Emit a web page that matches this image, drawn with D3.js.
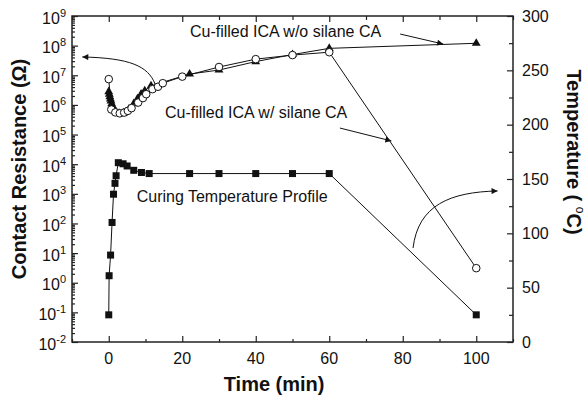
<!DOCTYPE html>
<html>
<head>
<meta charset="utf-8">
<script src="https://d3js.org/d3.v7.min.js"></script>
<style>
  body { margin: 0; background: #fff; }
  svg text { font-family: "Liberation Sans", Arial, sans-serif; fill: #111; }
</style>
</head>
<body>
<div id="chart"></div>
<script>
// curing temperature profile (right axis, deg C)
var tempTime = [0, 0.1, 0.5, 0.9, 1.3, 1.7, 2.0, 2.6, 3.9, 5.0, 6.8, 8.9, 11, 22, 30, 40, 50, 60, 100];
var tempVals = [25, 61, 80, 110, 136, 146, 153, 165, 164, 162, 158, 156, 155, 155, 155, 155, 155, 155, 25];

// Cu-filled ICA w/o silane CA (triangles, left axis, ohm)
var noSilaneTime = [0, 0.15, 0.3, 0.45, 0.6, 0.8, 1.0, 1.3, 1.6, 2.0, 2.8, 4.0, 5.5, 6.8, 7.8, 8.8, 9.8, 11.5, 22, 30, 40, 50, 60, 100];
var noSilaneRes = [2.8e6, 2.3e6, 1.9e6, 1.6e6, 1.35e6, 1.1e6, 9.0e5, 7.6e5, 6.5e5, 5.8e5, 5.2e5, 5.4e5, 7.2e5, 1.1e6, 1.6e6, 2.3e6, 3.0e6, 4.4e6, 1.1e7, 1.5e7, 2.9e7, 5.0e7, 8.1e7, 1.2e8];

// Cu-filled ICA w/ silane CA (open circles, left axis, ohm)
var silaneTime = [0, 0.7, 1.8, 3.0, 4.2, 5.2, 6.2, 8.0, 9.3, 10.2, 11.9, 13.4, 14.7, 20, 30, 40, 50, 60, 100];
var silaneRes = [7.4e6, 7.0e5, 5.6e5, 5.2e5, 5.5e5, 6.3e5, 7.8e5, 1.2e6, 1.7e6, 2.3e6, 3.4e6, 4.1e6, 5.4e6, 9.0e6, 1.9e7, 3.5e7, 4.8e7, 6.0e7, 3.1];

// tick values
var xTicks = [0, 20, 40, 60, 80, 100];
var xMinor = [-10, 10, 30, 50, 70, 90, 110];
var decades = [-2, -1, 0, 1, 2, 3, 4, 5, 6, 7, 8, 9];
var tempTicks = [0, 50, 100, 150, 200, 250, 300];
var tempMinor = [25, 75, 125, 175, 225, 275];

var W = 587, H = 403;
var margin = {top: 16, right: 74, bottom: 61, left: 72};
var width = W - margin.left - margin.right,
    height = H - margin.top - margin.bottom;

var svg = d3.select("#chart").append("svg")
  .attr("width", W).attr("height", H);

var g = svg.append("g")
  .attr("transform", "translate(" + margin.left + "," + margin.top + ")");

var x = d3.scaleLinear().domain([-10, 110]).range([0, width]);
var yL = d3.scaleLog().domain([1e-2, 1e9]).range([height, 0]);
var yR = d3.scaleLinear().domain([0, 300]).range([height, 0]);

// ---- axes (ticks inward) ----
function styleAxis(sel) {
  sel.select(".domain").remove();
  sel.selectAll(".tick line").attr("stroke", "#222").attr("stroke-width", 1.2);
  sel.selectAll(".tick text").remove();
}

g.append("g").attr("transform", "translate(0," + height + ")")
  .call(d3.axisBottom(x).tickValues(xTicks).tickSize(-6)).call(styleAxis);
g.append("g").attr("transform", "translate(0," + height + ")")
  .call(d3.axisBottom(x).tickValues(xMinor).tickSize(-3)).call(styleAxis);
g.append("g")
  .call(d3.axisTop(x).tickValues(xTicks).tickSize(-6)).call(styleAxis);
g.append("g")
  .call(d3.axisTop(x).tickValues(xMinor).tickSize(-4)).call(styleAxis);

var logMajor = decades.map(function(d) { return Math.pow(10, d); });
var logMinor = [];
decades.slice(0, -1).forEach(function(d) {
  for (var k = 2; k <= 9; k++) logMinor.push(k * Math.pow(10, d));
});
g.append("g")
  .call(d3.axisLeft(yL).tickValues(logMajor).tickSize(-6)).call(styleAxis);
g.append("g")
  .call(d3.axisLeft(yL).tickValues(logMinor).tickSize(-3)).call(styleAxis);

g.append("g").attr("transform", "translate(" + width + ",0)")
  .call(d3.axisRight(yR).tickValues(tempTicks).tickSize(-6)).call(styleAxis);
g.append("g").attr("transform", "translate(" + width + ",0)")
  .call(d3.axisRight(yR).tickValues(tempMinor).tickSize(-4)).call(styleAxis);

// frame
g.append("rect")
  .attr("width", width).attr("height", height)
  .attr("fill", "none").attr("stroke", "#222").attr("stroke-width", 1.5);

// tick labels
g.selectAll(".xlab").data(xTicks).enter().append("text")
  .attr("x", function(d) { return x(d); })
  .attr("y", height + 22)
  .attr("text-anchor", "middle")
  .style("font-size", "16px")
  .text(function(d) { return d; });

var ll = g.selectAll(".ylab").data(decades).enter().append("text")
  .attr("x", -6)
  .attr("y", function(d) { return yL(Math.pow(10, d)) + 7.5; })
  .attr("text-anchor", "end")
  .style("font-size", "16px");
ll.append("tspan").text("10");
ll.append("tspan").attr("dy", -7).style("font-size", "11px")
  .text(function(d) { return d; });

g.selectAll(".rlab").data(tempTicks).enter().append("text")
  .attr("x", width + 9)
  .attr("y", function(d) { return yR(d); })
  .attr("dy", "0.36em")
  .style("font-size", "16px")
  .text(function(d) { return d; });

// axis titles
svg.append("text")
  .attr("x", margin.left + x(45)).attr("y", 391)
  .attr("text-anchor", "middle")
  .style("font-size", "20px").style("font-weight", "bold")
  .text("Time (min)");

svg.append("text")
  .attr("transform", "translate(26,169) rotate(-90)")
  .attr("text-anchor", "middle")
  .style("font-size", "20px").style("font-weight", "bold")
  .text("Contact Resistance (\u03A9)");

var rt = svg.append("text")
  .attr("transform", "translate(567,152) rotate(90)")
  .attr("text-anchor", "middle")
  .style("font-size", "20px").style("font-weight", "bold");
rt.append("tspan").text("Temperature ( ");
rt.append("tspan").attr("dy", -9).style("font-size", "12px").style("font-weight", "normal").text("o");
rt.append("tspan").attr("dy", 9).text("C)");

// ---- series ----
var tempData = tempTime.map(function(t, i) { return {t: t, v: tempVals[i]}; });
var noSilData = noSilaneTime.map(function(t, i) { return {t: t, v: noSilaneRes[i]}; });
var silData = silaneTime.map(function(t, i) { return {t: t, v: silaneRes[i]}; });

var lineT = d3.line().x(function(d) { return x(d.t); }).y(function(d) { return yR(d.v); });
var lineL = d3.line().x(function(d) { return x(d.t); }).y(function(d) { return yL(d.v); });

g.append("path").datum(tempData).attr("d", lineT)
  .attr("fill", "none").attr("stroke", "#111").attr("stroke-width", 1);
g.selectAll(".sq").data(tempData).enter().append("rect")
  .attr("x", function(d) { return x(d.t) - 3.5; })
  .attr("y", function(d) { return yR(d.v) - 3.5; })
  .attr("width", 7).attr("height", 7)
  .attr("fill", "#111");

g.append("path").datum(noSilData).attr("d", lineL)
  .attr("fill", "none").attr("stroke", "#111").attr("stroke-width", 1);
g.selectAll(".tri").data(noSilData).enter().append("path")
  .attr("d", d3.symbol().type(d3.symbolTriangle).size(34))
  .attr("transform", function(d) { return "translate(" + x(d.t) + "," + yL(d.v) + ")"; })
  .attr("fill", "#111");

g.append("path").datum(silData).attr("d", lineL)
  .attr("fill", "none").attr("stroke", "#111").attr("stroke-width", 1);
g.selectAll(".circ").data(silData).enter().append("circle")
  .attr("cx", function(d) { return x(d.t); })
  .attr("cy", function(d) { return yL(d.v); })
  .attr("r", 3.8)
  .attr("fill", "#fff").attr("stroke", "#111").attr("stroke-width", 1);

// ---- annotations (time, temperature coordinates) ----
svg.append("defs").append("marker")
  .attr("id", "ah").attr("viewBox", "0 0 10 10")
  .attr("refX", 10).attr("refY", 5)
  .attr("markerWidth", 9).attr("markerHeight", 6)
  .attr("markerUnits", "userSpaceOnUse")
  .attr("orient", "auto")
  .append("path").attr("d", "M0,0 L10,5 L0,10 z").attr("fill", "#111");

function P(t, v) { return x(t) + "," + yR(v); }

var arrows = [
  "M" + P(12.6, 237.4) + " C" + P(10.7, 254) + " " + P(5.8, 261.3) + " " + P(-7.2, 262.3),
  "M" + P(79.3, 283.4) + " L" + P(91.0, 274.2),
  "M" + P(62.9, 196.9) + " L" + P(76.9, 185),
  "M" + P(82.8, 86.5) + " C" + P(84.2, 126) + " " + P(92.9, 138) + " " + P(105.8, 139)
];
g.selectAll(".arr").data(arrows).enter().append("path")
  .attr("d", function(d) { return d; })
  .attr("fill", "none").attr("stroke", "#111").attr("stroke-width", 1)
  .attr("marker-end", "url(#ah)");

var notes = [
  {t: 22.1, v: 280.7, s: "Cu-filled ICA w/o silane CA"},
  {t: 15.3, v: 205.9, s: "Cu-filled ICA w/ silane CA"},
  {t: 7.6, v: 129.1, s: "Curing Temperature Profile"}
];
g.selectAll(".note").data(notes).enter().append("text")
  .attr("x", function(d) { return x(d.t); })
  .attr("y", function(d) { return yR(d.v); })
  .style("font-size", "16px")
  .text(function(d) { return d.s; });
</script>
</body>
</html>
